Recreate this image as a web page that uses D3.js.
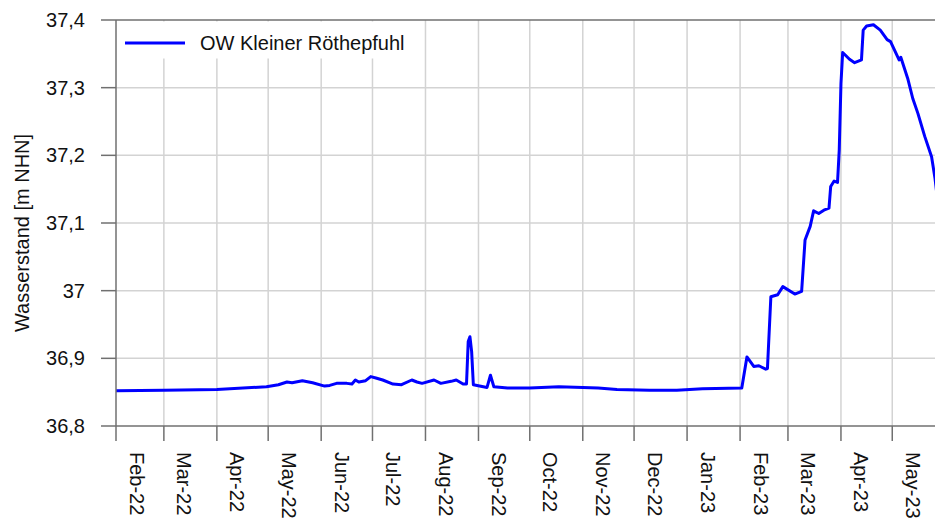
<!DOCTYPE html>
<meta charset="utf-8">
<head>
  <title>OW Kleiner Röthepfuhl</title>
  <style>
    body { margin: 0; background: #fff; }
    text { font-family: "Liberation Sans", Arial, sans-serif; fill: #111; }
  </style>
</head>
<body>
  <svg id="viz" width="935" height="524"></svg>
  <script src="https://cdnjs.cloudflare.com/ajax/libs/d3/7.8.5/d3.min.js"></script>
  <script>
    var dates = [
      "2022-02-01", "2022-03-01", "2022-04-01", "2022-04-30", "2022-05-07", "2022-05-12",
      "2022-05-15", "2022-05-21", "2022-05-27", "2022-06-03", "2022-06-06", "2022-06-10",
      "2022-06-16", "2022-06-19", "2022-06-21", "2022-06-23", "2022-06-27", "2022-06-30",
      "2022-07-03", "2022-07-07", "2022-07-13", "2022-07-18", "2022-07-24", "2022-07-27",
      "2022-07-30", "2022-08-06", "2022-08-10", "2022-08-16", "2022-08-19", "2022-08-23",
      "2022-08-25", "2022-08-26", "2022-08-27", "2022-08-28", "2022-08-29", "2022-09-06",
      "2022-09-08", "2022-09-10", "2022-09-18", "2022-10-01", "2022-10-18", "2022-11-01",
      "2022-11-10", "2022-11-21", "2022-12-10", "2022-12-26", "2023-01-10", "2023-02-02",
      "2023-02-05", "2023-02-09", "2023-02-12", "2023-02-16", "2023-02-17", "2023-02-19",
      "2023-02-23", "2023-02-26", "2023-03-05", "2023-03-09", "2023-03-11", "2023-03-14",
      "2023-03-16", "2023-03-19", "2023-03-22", "2023-03-25", "2023-03-26", "2023-03-28",
      "2023-03-30", "2023-03-31", "2023-04-01", "2023-04-02", "2023-04-06", "2023-04-09",
      "2023-04-13", "2023-04-14", "2023-04-16", "2023-04-20", "2023-04-24", "2023-04-28",
      "2023-04-30", "2023-05-05", "2023-05-06", "2023-05-10", "2023-05-13", "2023-05-16",
      "2023-05-20", "2023-05-24", "2023-05-26", "2023-05-27"
    ];
    var levels = [
      36.852, 36.853, 36.854, 36.858, 36.861, 36.865,
      36.864, 36.867, 36.864, 36.859, 36.860, 36.863,
      36.863, 36.862, 36.868, 36.865, 36.867, 36.873,
      36.871, 36.868, 36.862, 36.861, 36.868, 36.865,
      36.863, 36.868, 36.863, 36.866, 36.868, 36.862,
      36.862, 36.925, 36.932, 36.910, 36.861, 36.857,
      36.875, 36.858, 36.856, 36.856, 36.858, 36.857,
      36.856, 36.854, 36.853, 36.853, 36.855, 36.856,
      36.902, 36.888, 36.889, 36.884, 36.885, 36.991,
      36.994, 37.006, 36.995, 36.999, 37.075, 37.095,
      37.118, 37.114, 37.119, 37.122, 37.154, 37.162,
      37.160, 37.208, 37.306, 37.352, 37.342, 37.337,
      37.341, 37.385, 37.391, 37.393, 37.385, 37.371,
      37.368, 37.341, 37.345, 37.314, 37.284, 37.262,
      37.228, 37.198, 37.166, 37.145
    ];
    var yTicks = [36.8, 36.9, 37.0, 37.1, 37.2, 37.3, 37.4];
    var seriesName = "OW Kleiner Röthepfuhl";
    var axisTitle = "Wasserstand [m NHN]";

    var svg = d3.select("#viz");
    var plotL = 116, plotR = 935, plotT = 20, plotB = 426;
    var parse = d3.timeParse("%Y-%m-%d");
    var data = dates.map(function (d, i) { return { date: parse(d), value: levels[i] }; });

    var x = d3.scaleTime()
      .domain([parse("2022-02-01"), parse("2023-05-26")])
      .range([plotL, plotR]);
    var y = d3.scaleLinear().domain([36.8, 37.4]).range([plotB, plotT]);

    var months = d3.timeMonth.range(parse("2022-02-01"), parse("2023-05-02"));
    var fmtMonth = d3.timeFormat("%b-%y");
    var fmtY = function (v) { return String(+v.toFixed(1)).replace(".", ","); };

    svg.append("clipPath").attr("id", "clip")
      .append("rect").attr("x", plotL).attr("y", 0).attr("width", plotR - plotL).attr("height", plotB);

    // grid
    var grid = svg.append("g").attr("stroke", "#d3d3d3").attr("stroke-width", 1.5);
    grid.selectAll(".vg").data(months.slice(1)).enter().append("line")
      .attr("x1", d => x(d)).attr("x2", d => x(d))
      .attr("y1", plotT).attr("y2", plotB);
    grid.selectAll(".hg").data(yTicks.slice(1, -1)).enter().append("line")
      .attr("x1", plotL).attr("x2", plotR)
      .attr("y1", d => y(d)).attr("y2", d => y(d));

    // series
    svg.append("path").datum(data)
      .attr("clip-path", "url(#clip)")
      .attr("fill", "none").attr("stroke", "#0000ff").attr("stroke-width", 3)
      .attr("stroke-linejoin", "round")
      .attr("d", d3.line().x(d => x(d.date)).y(d => y(d.value)));

    // axes
    var ax = svg.append("g").attr("stroke", "#707070").attr("stroke-width", 1.5);
    ax.append("line").attr("x1", plotL).attr("x2", plotL).attr("y1", plotT).attr("y2", plotB);
    ax.selectAll(".yt").data(yTicks).enter().append("line")
      .attr("x1", plotL - 15).attr("x2", d => (d === 36.8 || d === 37.4) ? plotR : plotL)
      .attr("y1", d => y(d)).attr("y2", d => y(d));
    ax.selectAll(".xt").data(months).enter().append("line")
      .attr("x1", d => x(d)).attr("x2", d => x(d))
      .attr("y1", plotB).attr("y2", plotB + 15);

    svg.selectAll(".yl").data(yTicks).enter().append("text")
      .attr("x", plotL - 31).attr("y", d => y(d)).attr("dy", "0.35em")
      .attr("text-anchor", "end").attr("font-size", 20)
      .text(fmtY);

    svg.selectAll(".xl").data(months).enter().append("text")
      .attr("transform", d => "translate(" + x(d3.timeDay.offset(d, 12)) + "," + (plotB + 26) + ") rotate(90)")
      .attr("dy", "0.35em").attr("font-size", 20)
      .text(fmtMonth);

    svg.append("text")
      .attr("transform", "translate(29," + ((plotT + plotB) / 2 + 10) + ") rotate(-90)")
      .attr("text-anchor", "middle").attr("font-size", 20)
      .text(axisTitle);

    // legend
    var lg = svg.append("g");
    lg.append("rect").attr("x", plotL + 2).attr("y", plotT + 1.5).attr("width", 302).attr("height", 37).attr("fill", "#fff");
    lg.append("line").attr("x1", plotL + 9).attr("x2", plotL + 69).attr("y1", 43).attr("y2", 43)
      .attr("stroke", "#0000ff").attr("stroke-width", 3);
    lg.append("text").attr("x", plotL + 84).attr("y", 43).attr("dy", "0.35em").attr("font-size", 20)
      .text(seriesName);
  </script>
</body>
</html>
